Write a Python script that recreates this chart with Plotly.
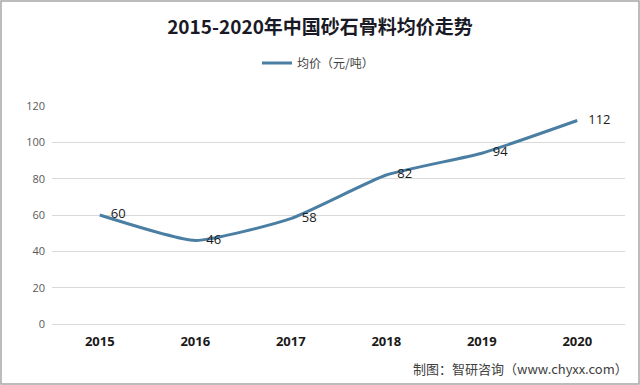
import plotly.graph_objects as go

years = ["2015", "2016", "2017", "2018", "2019", "2020"]
prices = [60, 46, 58, 82, 94, 112]
series_name = "均价（元/吨）"
title_text = "2015-2020年中国砂石骨料均价走势"
source_text = "制图：智研咨询（www.chyxx.com）"

W, H = 640, 385
ml, mr, mt, mb = 52, 15, 106, 61
pw, ph = W - ml - mr, H - mt - mb

fig = go.Figure()
fig.add_trace(go.Scatter(
    x=years, y=prices, name=series_name,
    mode="lines+markers+text",
    line=dict(color="#4A7FA3", width=3, shape="spline", smoothing=0.5),
    marker=dict(size=16, color="rgba(0,0,0,0)", line=dict(width=0)),
    text=[str(v) for v in prices],
    textposition="middle right",
    textfont=dict(family="Open Sans, Noto Sans CJK SC", size=13, color="#1a1a1a"),
    cliponaxis=False,
    hoverinfo="skip",
))

fig.update_layout(
    width=W, height=H,
    margin=dict(l=ml, r=mr, t=mt, b=mb, autoexpand=False),
    paper_bgcolor="white", plot_bgcolor="white",
    title=dict(text="<b>" + title_text + "</b>", x=0.5, xanchor="center", y=1 - 27 / H, yanchor="middle",
               font=dict(family="Noto Sans CJK SC", size=19, color="#1a1a26")),
    showlegend=True,
    legend=dict(orientation="h", x=(318 - ml) / pw, xanchor="center", y=1 + (mt - 63) / ph, yanchor="middle",
                font=dict(family="Noto Sans CJK SC", size=12, color="#404040"),
                itemwidth=30, bgcolor="rgba(0,0,0,0)"),
    xaxis=dict(type="category", range=[-0.5, 5.5], showgrid=False, showline=False, zeroline=False, ticks="",
               tickfont=dict(family="Open Sans, Noto Sans CJK SC", size=13, color="#1a1a1a", weight="bold"),
               ticklabelstandoff=8),
    yaxis=dict(range=[0, 120], dtick=20, showgrid=True, gridcolor="#D9D9D9", gridwidth=1,
               zeroline=True, zerolinecolor="#D9D9D9", zerolinewidth=1, showline=False, ticks="",
               tickfont=dict(family="Open Sans, Noto Sans CJK SC", size=11, color="#595959"),
               ticklabelstandoff=6),
    annotations=[dict(text=source_text, xref="paper", yref="paper",
                      x=(630 - ml) / pw, xanchor="right", y=-(368 - mt - ph) / ph, yanchor="middle",
                      showarrow=False, font=dict(family="Noto Sans CJK SC", size=13, color="#404040"))],
    shapes=[dict(type="rect", xref="paper", yref="paper",
                 x0=-(ml - 1) / pw, x1=1 + (mr - 1) / pw, y0=-(mb - 1) / ph, y1=1 + (mt - 1) / ph,
                 line=dict(color="#A6A6A6", width=1.5), fillcolor="rgba(0,0,0,0)", layer="below")],
)

fig.write_html("out.html", config={"displayModeBar": False},
               post_script="document.body.style.margin='0';document.body.style.overflow='hidden';")
